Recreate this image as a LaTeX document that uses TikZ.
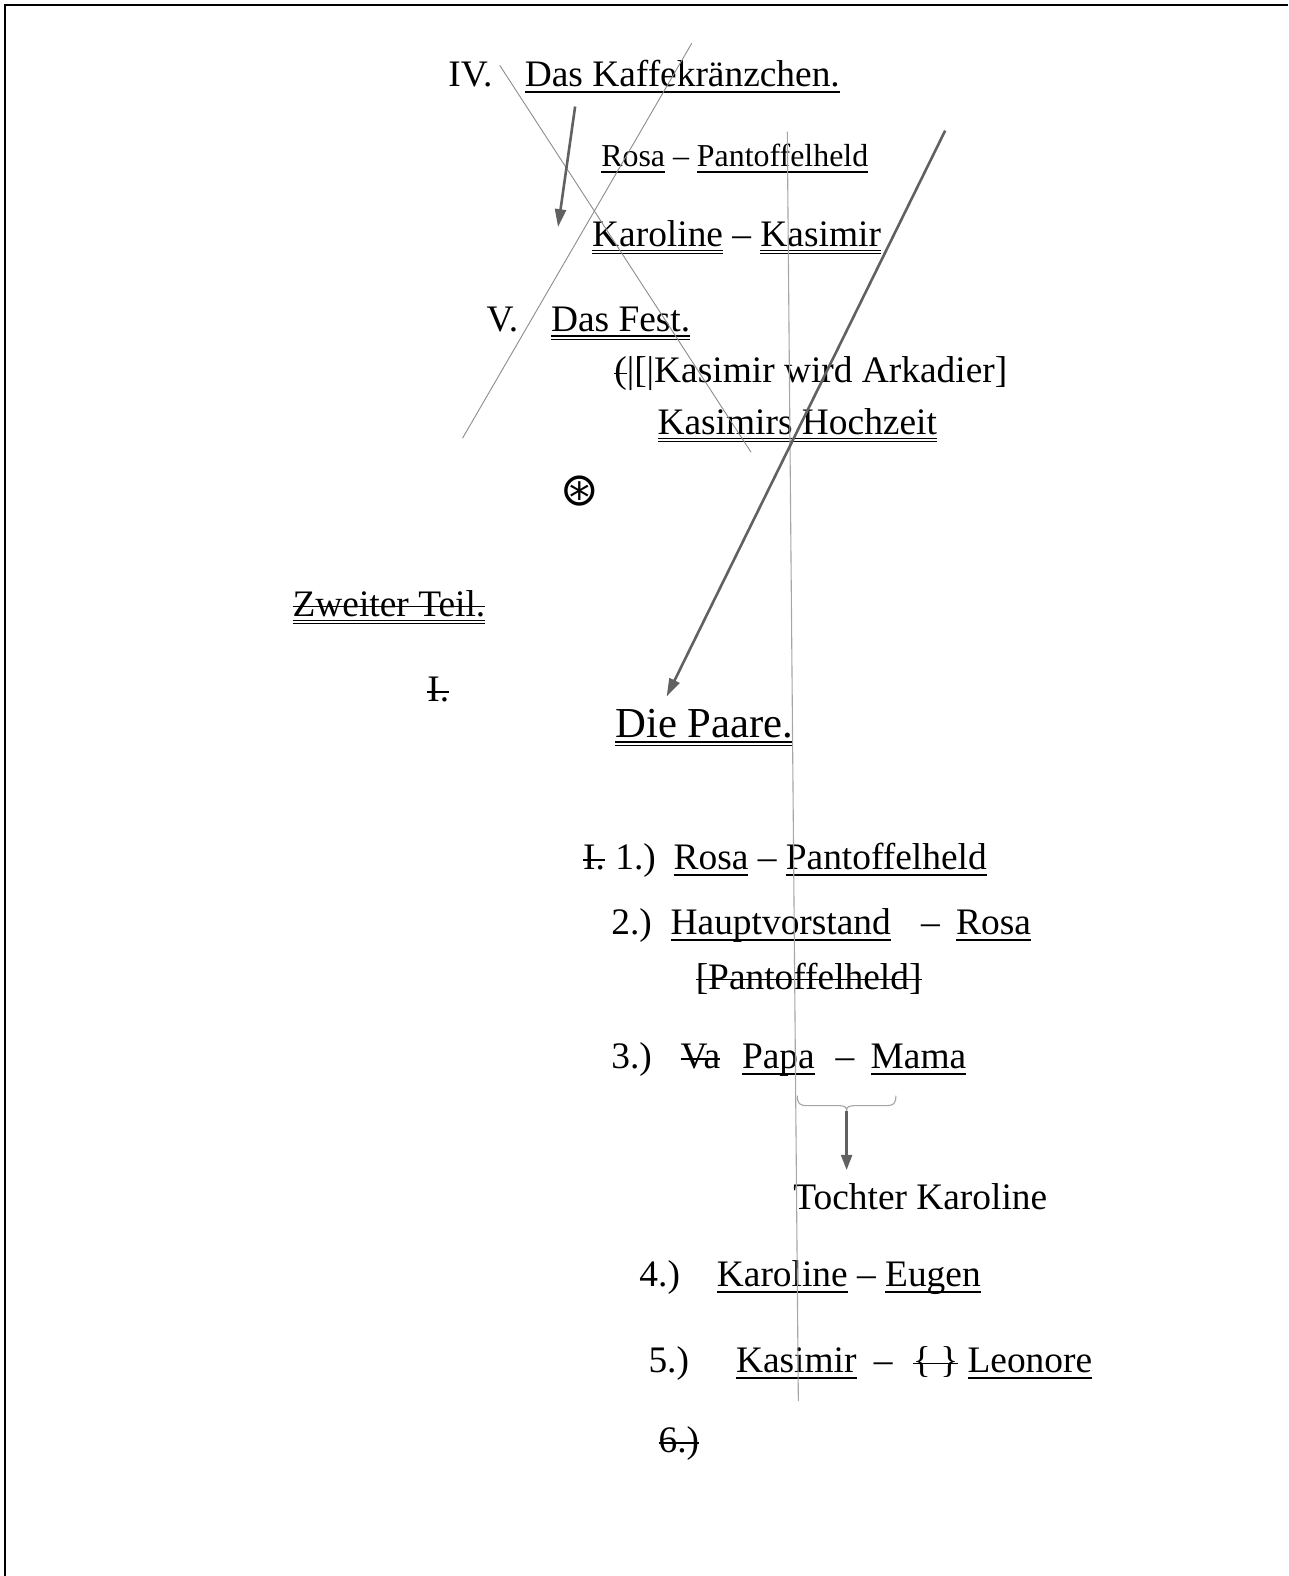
\documentclass[tikz,border=0pt]{standalone}
\usepackage{fontspec}
\setmainfont{Liberation Serif}
\newfontfamily\symbolfont{DejaVu Sans}
\usetikzlibrary{arrows.meta}

% word-processor style underline, double underline and strike-out
\newcommand\myul[1]{\leavevmode\setbox0\hbox{#1}\rlap{\vrule width\wd0 height -4.3pt depth 6.3pt}\box0\relax}
\newcommand\mydul[1]{\leavevmode\setbox0\hbox{#1}\rlap{\vrule width\wd0 height -3.6pt depth 4.9pt}\rlap{\vrule width\wd0 height -6.9pt depth 8.2pt}\box0\relax}
\newcommand\mystrike[1]{\leavevmode\setbox0\hbox{#1}\rlap{\vrule width\wd0 height 10.3pt depth -8.7pt}\box0\relax}

\tikzset{
  txt/.style={anchor=base west, inner sep=0pt, outer sep=0pt, font=\fontsize{37.4}{44}\selectfont},
  smalltxt/.style={txt, font=\fontsize{31.9}{38}\selectfont},
  bigtxt/.style={txt, font=\fontsize{42.7}{50}\selectfont},
  pencil/.style={draw=black!45, line width=0.9pt},
  guide/.style={draw=black!35, line width=1.1pt},
  pointer/.style={draw=black!62, line width=2.6pt, -{Triangle[length=18pt,width=11pt]}},
  framerule/.style={draw=black, line width=2pt}
}

\begin{document}
\begin{tikzpicture}[x=1.00546pt, y=-1.0051pt]
\useasboundingbox (0,0) rectangle (1281,1568);

% page edges
\coordinate (ctl) at (5,5);
\coordinate (ctr) at (1281,5);
\coordinate (cbl) at (5,1568);
\draw[framerule] (ctr) -- (ctl) -- (cbl);

% upper block
\node[txt] (iv) at (446,86) {IV.};
\node[txt] (kaffee) at (522,86) {\myul{Das Kaffekränzchen.}};
\node[smalltxt] (rosa1) at (598,166) {\myul{Rosa} – \myul{Pantoffelheld}};
\node[txt] (karkas) at (589,245) {\mydul{Karoline} – \mydul{Kasimir}};
\node[txt] (v) at (484,330) {V.};
\node[txt] (fest) at (548,330) {\mydul{Das Fest.}};
\node[txt] (arkadier) at (611,381) {\mystrike{(}|[|Kasimir wird Arkadier]};
\node[txt] (hochzeit) at (654,432) {\mydul{Kasimirs Hochzeit}};
\node[txt, anchor=center, font=\symbolfont\fontsize{46}{50}\selectfont] (mark) at (577,489) {⊛};

% second part
\node[txt] (zweiter) at (291,613) {\mystrike{\mydul{Zweiter Teil.}}};
\node[txt] (roman) at (425,698) {\mystrike{I.}};
\node[bigtxt] (paare) at (612,734) {\mydul{Die Paare.}};

% list of couples
\node[txt] (n1x) at (580,865) {\mystrike{I.}};
\node[txt] (n1) at (612,865) {1.)};
\node[txt] (p1) at (670,865) {\myul{Rosa} – \myul{Pantoffelheld}};

\node[txt] (n2) at (608,930) {2.)};
\node[txt] (p2a) at (667,930) {\myul{Hauptvorstand}};
\node[txt] (p2d) at (916,930) {–};
\node[txt] (p2b) at (951,930) {\myul{Rosa}};
\node[txt] (p2c) at (692,984) {\mystrike{[Pantoffelheld]}};

\node[txt] (n3) at (608,1063) {3.)};
\node[txt] (p3x) at (677,1063) {\mystrike{Va}};
\node[txt] (p3a) at (738,1063) {\myul{Papa}};
\node[txt] (p3d) at (831,1063) {–};
\node[txt] (p3b) at (866,1063) {\myul{Mama}};

\node[txt] (tochter) at (789,1203) {Tochter Karoline};

\node[txt] (n4) at (636,1280) {4.)};
\node[txt] (p4) at (713,1280) {\myul{Karoline} – \myul{Eugen}};

\node[txt] (n5) at (645,1366) {5.)};
\node[txt] (p5a) at (732,1366) {\myul{Kasimir}};
\node[txt] (p5d) at (869,1366) {–};
\node[txt] (p5b) at (908,1366) {\mystrike{\{ \}} \myul{Leonore}};

\node[txt] (n6) at (655,1445) {\mystrike{6.)}};

% pencil strokes
\coordinate (bsA) at (497,65);
\coordinate (bsB) at (747,450);
\coordinate (slA) at (688,43);
\coordinate (slB) at (460,436);
\coordinate (vtA) at (783,131);
\coordinate (vtB) at (794,1394);
\draw[pencil] (bsA) -- (bsB);
\draw[pencil] (slA) -- (slB);
\draw[guide] (vtA) -- (vtB);

% arrows
\coordinate (shA) at (572,106);
\coordinate (shB) at (555,226);
\draw[pointer] (shA) -- (shB);
\coordinate (lgA) at (940,130);
\coordinate (lgB) at (663,693);
\draw[pointer] (lgA) -- (lgB);

% brace under Papa -- Mama
\coordinate (brL) at (793,1090);
\coordinate (brR) at (891,1090);
\coordinate (brTip) at (842,1105);
\coordinate (brEnd) at (842,1164);
\draw[guide] (brL) .. controls (793,1098) and (795,1100) .. (803,1100) -- (832,1100)
  .. controls (840,1100) and (842,1101) .. (brTip)
  .. controls (842,1101) and (844,1100) .. (852,1100) -- (881,1100)
  .. controls (889,1100) and (891,1098) .. (brR);
\draw[pointer, line width=2.3pt, -{Triangle[length=15pt,width=11pt]}] (brTip) -- (brEnd);
\end{tikzpicture}
\end{document}
